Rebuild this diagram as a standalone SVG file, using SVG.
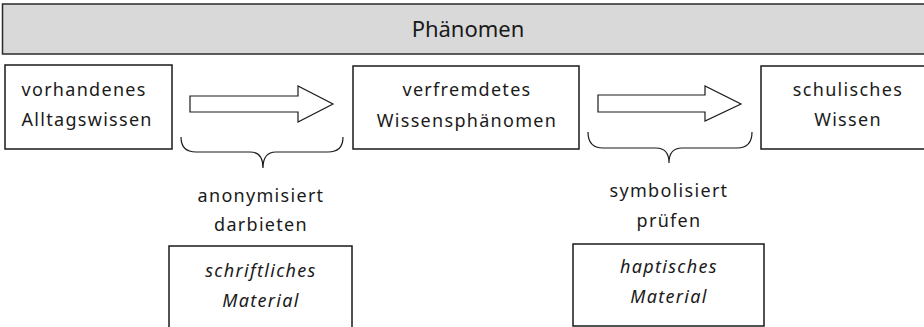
<svg xmlns="http://www.w3.org/2000/svg" width="924" height="327" viewBox="0 0 924 327">
<style>
.box{fill:#fff;stroke:#1a1a1a;stroke-width:1.5}
.bar{fill:#d9d9d9;stroke:#2a2a2a;stroke-width:1.5}
.t{font-family:"Noto Sans",sans-serif;font-size:18px;letter-spacing:1.3px;fill:#1a1a1a}
.c{text-anchor:middle}
.i{font-style:italic}
.arrow{fill:#fff;stroke:#1a1a1a;stroke-width:1.2;stroke-linejoin:miter}
.brace{fill:none;stroke:#1a1a1a;stroke-width:1.2}
</style>
<g id="phaenomen">
<rect class="bar" x="2.5" y="4" width="930" height="50"/>
<text x="468" y="37" text-anchor="middle" style="font-family:'Noto Sans',sans-serif;font-size:22px;fill:#1a1a1a">Phänomen</text>
</g>
<g id="alltagswissen">
<rect class="box" x="5" y="65" width="167" height="84"/>
<text class="t" x="21.5" y="96">vorhandenes</text>
<text class="t" x="21.5" y="126">Alltagswissen</text>
</g>
<g id="wissensphaenomen">
<rect class="box" x="353" y="66" width="226" height="83"/>
<text class="t c" x="467" y="96">verfremdetes</text>
<text class="t c" x="467" y="127">Wissensphänomen</text>
</g>
<g id="schulisches-wissen">
<rect class="box" x="761" y="66" width="180" height="83"/>
<text class="t c" x="848" y="96">schulisches</text>
<text class="t c" x="848" y="126">Wissen</text>
</g>
<g id="label-left">
<text class="t c" x="261" y="202">anonymisiert</text>
<text class="t c" x="261" y="231">darbieten</text>
</g>
<g id="label-right">
<text class="t c" x="669" y="197">symbolisiert</text>
<text class="t c" x="669" y="227">prüfen</text>
</g>
<g id="schriftliches-material">
<rect class="box" x="169" y="246" width="183" height="90"/>
<text class="t c i" x="261" y="277">schriftliches</text>
<text class="t c i" x="261" y="307">Material</text>
</g>
<g id="haptisches-material">
<rect class="box" x="573" y="244" width="191" height="82"/>
<text class="t c i" x="669" y="273">haptisches</text>
<text class="t c i" x="669" y="303">Material</text>
</g>
<g id="connectors">
<path class="arrow" d="M190,96 L298,96 L298,86 L333,104 L298,122 L298,112 L190,112 Z"/>
<path class="arrow" d="M598,95 L705,95 L705,86 L741,104 L705,121 L705,112 L598,112 Z"/>
<path class="brace" d="M181,137 Q181,152 196,152 L250,152 Q263,152 263,168 Q263,152 276,152 L328,152 Q343,152 343,137"/>
<path class="brace" d="M588,132 Q588,148 603,148 L656,148 Q669,148 669,163 Q669,148 682,148 L737,148 Q752,148 752,132"/>
</g>
</svg>
